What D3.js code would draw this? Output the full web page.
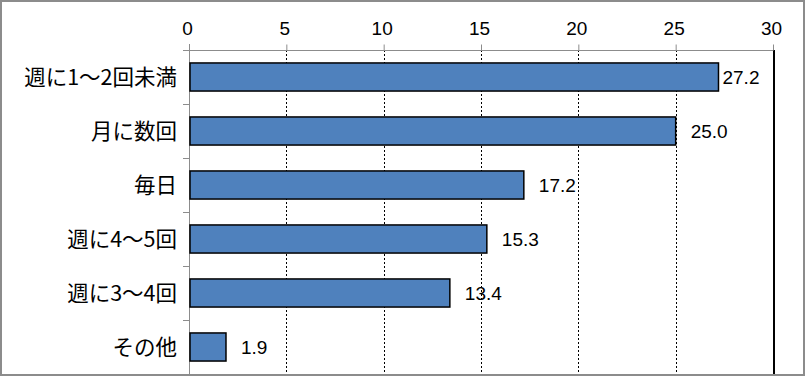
<!DOCTYPE html>
<html>
<head>
<meta charset="utf-8">
<script src="https://cdn.jsdelivr.net/npm/d3@7"></script>
<style>
  body { margin: 0; background: #fff; }
  svg { display: block; }
  text { font-family: "Noto Sans CJK JP", "Noto Sans", sans-serif; fill: #000; }
</style>
</head>
<body>
<script>
var categories = ["週に1～2回未満", "月に数回", "毎日", "週に4～5回", "週に3～4回", "その他"];
var values = [27.2, 25.0, 17.2, 15.3, 13.4, 1.9];
var xTicks = [0, 5, 10, 15, 20, 25, 30];

var WIDTH = 805, HEIGHT = 376;
var LEFT = 189, RIGHT = 773, TOP = 50, BOTTOM = 374;

var translate = function (x, y) { return "translate(" + x + "," + y + ")"; };

var xScale = d3.scaleLinear().domain([0, 30]).range([LEFT, RIGHT]);
var yScale = d3.scaleBand().domain(categories).range([TOP, BOTTOM])
    .paddingInner(0.48).paddingOuter(0.24);

var svg = d3.select("body").append("svg")
    .attr("width", WIDTH).attr("height", HEIGHT);

svg.append("rect").attr("x", 1).attr("y", 1)
    .attr("width", WIDTH - 2).attr("height", HEIGHT - 2)
    .attr("fill", "#fff").attr("stroke", "#8c8c8c").attr("stroke-width", 2);

// dashed gridlines
svg.append("g").selectAll("line")
    .data(xTicks.filter(function (d) { return d > 0 && d < 30; }))
    .enter().append("line")
    .attr("x1", function (d) { return Math.round(xScale(d)) + 0.5; })
    .attr("x2", function (d) { return Math.round(xScale(d)) + 0.5; })
    .attr("y1", TOP).attr("y2", BOTTOM)
    .attr("stroke", "#000").attr("stroke-width", 1)
    .attr("stroke-dasharray", "2,2");

// right edge
svg.append("line")
    .attr("x1", RIGHT + 1).attr("x2", RIGHT + 1)
    .attr("y1", TOP).attr("y2", BOTTOM)
    .attr("stroke", "#000").attr("stroke-width", 2);

// top axis
var xAxis = d3.axisTop(xScale).tickValues(xTicks).tickSize(6).tickPadding(10)
    .tickFormat(d3.format("d"));
var gx = svg.append("g").attr("transform", translate(0, TOP + 0.5)).call(xAxis);
gx.select(".domain").attr("stroke", "#8c8c8c").attr("d", "M" + (LEFT - 6) + ",0H" + RIGHT);
gx.selectAll(".tick line").attr("stroke", "#8c8c8c");
gx.selectAll(".tick text").attr("font-size", 19).attr("dx", -2)
    .style("font-family", "'Liberation Sans', Arial, sans-serif");

// left axis with ticks at band boundaries
svg.append("line")
    .attr("x1", LEFT + 0.5).attr("x2", LEFT + 0.5)
    .attr("y1", TOP - 6).attr("y2", BOTTOM)
    .attr("stroke", "#8c8c8c").attr("stroke-width", 1);
var step = yScale.step();
svg.append("g").selectAll("line")
    .data(d3.range(categories.length + 1))
    .enter().append("line")
    .attr("x1", LEFT - 6).attr("x2", LEFT)
    .attr("y1", function (i) { return Math.round(TOP + i * step) + 0.5; })
    .attr("y2", function (i) { return Math.round(TOP + i * step) + 0.5; })
    .attr("stroke", "#8c8c8c");

svg.append("g").selectAll("text")
    .data(categories)
    .enter().append("text")
    .attr("x", LEFT - 12)
    .attr("y", function (d) { return yScale(d) + yScale.bandwidth() / 2; })
    .attr("dy", "0.36em")
    .attr("text-anchor", "end")
    .attr("font-size", 21.5)
    .text(function (d) { return d; });

// bars
svg.append("g").selectAll("rect")
    .data(values)
    .enter().append("rect")
    .attr("x", xScale(0) + 1)
    .attr("y", function (d, i) { return yScale(categories[i]); })
    .attr("width", function (d) { return xScale(d) - xScale(0) - 1; })
    .attr("height", yScale.bandwidth())
    .attr("fill", "#4f81bd").attr("stroke", "#000").attr("stroke-width", 1.5);

// value labels
svg.append("g").selectAll("text")
    .data(values)
    .enter().append("text")
    .attr("x", function (d) { return xScale(d) + 55 > RIGHT ? xScale(d) + 4 : xScale(d) + 15; })
    .attr("y", function (d, i) { return yScale(categories[i]) + yScale.bandwidth() / 2; })
    .attr("dy", "0.36em")
    .attr("font-size", 19)
    .style("font-family", "'Liberation Sans', Arial, sans-serif")
    .text(function (d) { return d.toFixed(1); });
</script>
</body>
</html>
